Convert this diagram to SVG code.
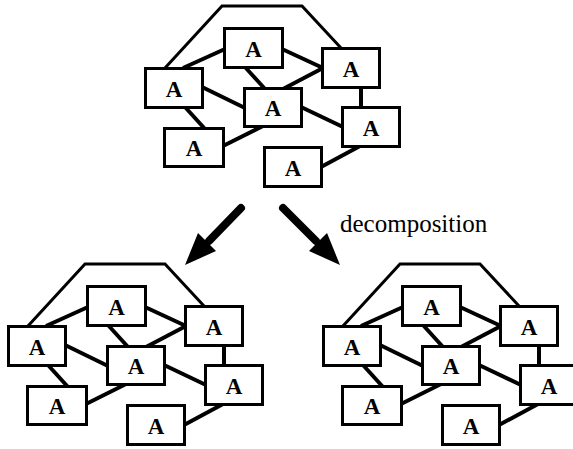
<svg xmlns="http://www.w3.org/2000/svg" width="573" height="449" viewBox="0 0 573 449">
<style>
.bg{fill:#fff}
.e{stroke:#000;stroke-width:4;fill:none;stroke-linecap:butt}
.o{stroke:#000;stroke-width:3;fill:none;stroke-linejoin:miter}
.n rect{fill:#fff;stroke:#000;stroke-width:3}
.n text{font-family:"Liberation Serif","Times New Roman",serif;font-weight:bold;font-size:23px;text-anchor:middle;fill:#000}
.lbl{font-family:"Liberation Serif","Times New Roman",serif;font-size:25px;fill:#000}
.shaft{stroke:#000;stroke-width:8;fill:none;stroke-linecap:round}
</style>
<defs>
<g id="edges">
<polyline class="o" points="165,68 222,6 302,6 341,48"/>
<line class="e" x1="183" y1="68" x2="225" y2="49"/>
<line class="e" x1="282" y1="49" x2="323" y2="68"/>
<line class="e" x1="245" y1="67" x2="265" y2="89"/>
<line class="e" x1="283" y1="89" x2="323" y2="68"/>
<line class="e" x1="202" y1="87" x2="245" y2="108"/>
<line class="e" x1="185" y1="107" x2="205" y2="129"/>
<line class="e" x1="263" y1="126" x2="223" y2="146"/>
<line class="e" x1="301" y1="107" x2="343" y2="127"/>
<line class="e" x1="361" y1="87" x2="361" y2="108"/>
<line class="e" x1="360" y1="146" x2="321" y2="167"/>
</g>
</defs>
<rect class="bg" x="0" y="0" width="573" height="449"/>

<g id="connectors">
<use href="#edges"/>
<use href="#edges" transform="translate(-137,258)"/>
<use href="#edges" transform="translate(178,258)"/>
<g id="arrow-left">
<line class="shaft" x1="241" y1="208" x2="209" y2="241"/>
<polygon points="185,265 198,233 216,251"/>
</g>
<g id="arrow-right">
<line class="shaft" x1="283" y1="208" x2="316" y2="241"/>
<polygon points="340,265 309,251 327,233"/>
</g>
</g>

<g id="graph-top">
<g id="t1" class="n"><rect x="224.5" y="28.5" width="58" height="39"/><text x="253.5" y="56.5">A</text></g>
<g id="t2" class="n"><rect x="145.5" y="68.5" width="57" height="39"/><text x="174" y="96.5">A</text></g>
<g id="t3" class="n"><rect x="322.5" y="48.5" width="57" height="39"/><text x="351" y="76.5">A</text></g>
<g id="t4" class="n"><rect x="244.5" y="88.5" width="57" height="38"/><text x="273" y="116">A</text></g>
<g id="t5" class="n"><rect x="164.5" y="128.5" width="59" height="38"/><text x="194" y="156">A</text></g>
<g id="t6" class="n"><rect x="342.5" y="107.5" width="57" height="39"/><text x="371" y="135.5">A</text></g>
<g id="t7" class="n"><rect x="264.5" y="147.5" width="57" height="39"/><text x="293" y="175.5">A</text></g>
</g>

<g id="graph-left" transform="translate(-137,258)">
<g id="l1" class="n"><rect x="224.5" y="28.5" width="58" height="39"/><text x="253.5" y="56.5">A</text></g>
<g id="l2" class="n"><rect x="145.5" y="68.5" width="57" height="39"/><text x="174" y="96.5">A</text></g>
<g id="l3" class="n"><rect x="322.5" y="48.5" width="57" height="39"/><text x="351" y="76.5">A</text></g>
<g id="l4" class="n"><rect x="244.5" y="88.5" width="57" height="38"/><text x="273" y="116">A</text></g>
<g id="l5" class="n"><rect x="164.5" y="128.5" width="59" height="38"/><text x="194" y="156">A</text></g>
<g id="l6" class="n"><rect x="342.5" y="107.5" width="57" height="39"/><text x="371" y="135.5">A</text></g>
<g id="l7" class="n"><rect x="264.5" y="147.5" width="57" height="39"/><text x="293" y="175.5">A</text></g>
</g>

<g id="graph-right" transform="translate(178,258)">
<g id="r1" class="n"><rect x="224.5" y="28.5" width="58" height="39"/><text x="253.5" y="56.5">A</text></g>
<g id="r2" class="n"><rect x="145.5" y="68.5" width="57" height="39"/><text x="174" y="96.5">A</text></g>
<g id="r3" class="n"><rect x="322.5" y="48.5" width="57" height="39"/><text x="351" y="76.5">A</text></g>
<g id="r4" class="n"><rect x="244.5" y="88.5" width="57" height="38"/><text x="273" y="116">A</text></g>
<g id="r5" class="n"><rect x="164.5" y="128.5" width="59" height="38"/><text x="194" y="156">A</text></g>
<g id="r6" class="n"><rect x="342.5" y="107.5" width="57" height="39"/><text x="371" y="135.5">A</text></g>
<g id="r7" class="n"><rect x="264.5" y="147.5" width="57" height="39"/><text x="293" y="175.5">A</text></g>
</g>

<text class="lbl" x="340" y="232">decomposition</text>
</svg>
